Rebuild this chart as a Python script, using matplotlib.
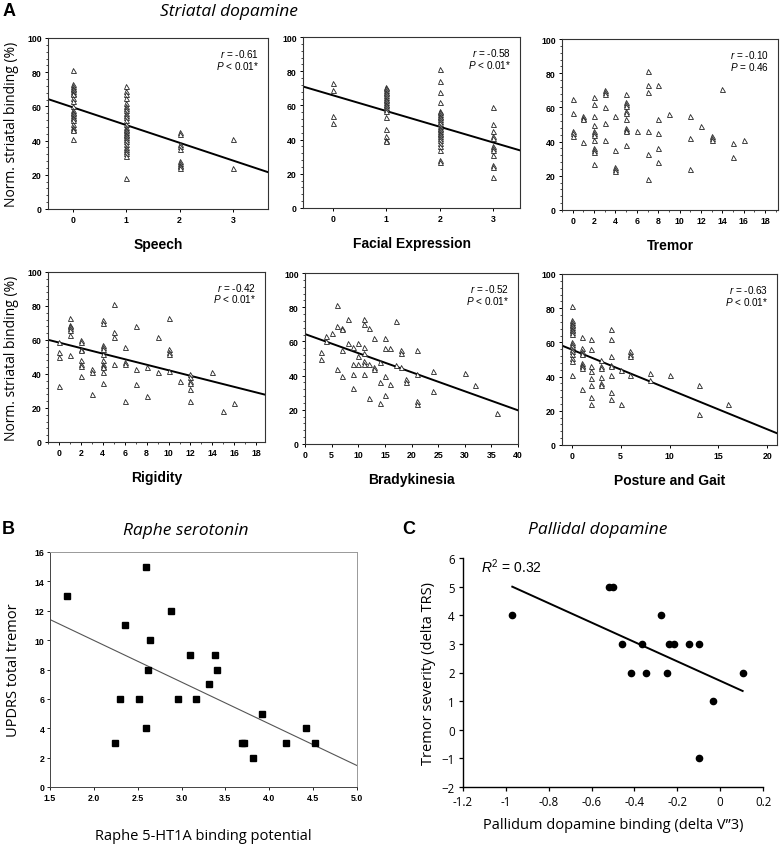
import matplotlib
matplotlib.use("Agg")
import matplotlib.pyplot as plt
import numpy as np
from matplotlib.ticker import MultipleLocator

plt.rcParams["mathtext.fontset"] = "custom"
plt.rcParams["mathtext.rm"] = "Liberation Sans"
plt.rcParams["mathtext.it"] = "Liberation Sans:italic"
plt.rcParams["mathtext.bf"] = "Liberation Sans:bold"

# ---------------- data: panel A (striatal dopamine) ----------------
speech_levels = [0, 1, 2, 3]
speech_values = [
    [81, 73, 72, 71, 70, 69, 68, 67, 65, 63, 60, 58, 57, 56, 55, 54, 53, 52, 50, 48, 47, 46, 41],
    [72, 69, 67, 65, 62, 60, 59, 58, 56, 55, 54, 52, 50, 48, 47, 46, 45, 44, 43, 42, 41, 40, 38,
     36, 35, 34, 33, 31, 18],
    [45, 44, 38, 37, 35, 28, 27, 26, 25, 24],
    [41, 24],
]
facial_levels = [0, 1, 2, 3]
facial_values = [
    [73, 69, 54, 50],
    [71, 70, 69, 68, 67, 66, 65, 64, 63, 62, 61, 60, 59, 58, 57, 53, 46, 42, 40, 39],
    [81, 74, 68, 62, 57, 56, 55, 54, 53, 52, 51, 50, 48, 47, 46, 45, 44, 43, 42, 41, 40, 38,
     36, 34, 28, 27],
    [59, 49, 45, 42, 41, 36, 35, 34, 31, 25, 24, 18],
]
tremor_levels = [0, 1, 2, 3, 4, 5, 6, 7, 8, 9, 11, 12, 13, 14, 15, 16]
tremor_values = [
    [65, 57, 46, 45, 43],
    [55, 54, 53, 40],
    [66, 62, 55, 50, 46, 45, 44, 41, 36, 35, 34, 27],
    [70, 69, 68, 60, 51, 41],
    [55, 35, 25, 24, 23],
    [68, 63, 62, 61, 58, 57, 53, 48, 47, 46, 38],
    [46],
    [81, 73, 69, 46, 33, 18],
    [73, 53, 45, 36, 28],
    [56],
    [55, 42, 24],
    [49],
    [43, 42, 41],
    [71],
    [39, 31],
    [41],
]
rigidity_levels = [0, 1, 2, 3, 4, 5, 6, 7, 8, 9, 10, 11, 12, 14, 15, 16]
rigidity_values = [
    [59, 53, 50, 33],
    [73, 69, 68, 67, 66, 63, 51],
    [60, 59, 55, 54, 48, 46, 45, 39],
    [43, 41, 28],
    [72, 70, 57, 56, 55, 52, 48, 46, 45, 44, 41, 35],
    [81, 65, 62, 46],
    [56, 47, 46, 24],
    [68, 43, 34],
    [44, 27],
    [62, 41],
    [73, 55, 53, 52, 42],
    [36],
    [40, 38, 36, 35, 31, 24],
    [41],
    [18],
    [23],
]
brady_x = [3, 3, 4, 4, 5, 6, 6, 6, 7, 7, 7, 7, 8, 8, 9, 9, 9, 9, 10, 10, 10, 11, 11, 11, 11,
           11, 11, 11, 12, 12, 12, 13, 13, 13, 14, 14, 14, 15, 15, 15, 15, 16, 16, 17, 17, 18,
           18, 18, 19, 19, 21, 21, 21, 21, 24, 24, 30, 32, 36]
brady_y = [54, 50, 63, 60, 65, 81, 69, 44, 68, 67, 55, 40, 73, 59, 57, 46.5, 41, 33, 59, 51.5,
           46.5, 73, 70, 57, 53, 48.6, 46.5, 41, 68, 47, 27, 62, 45, 44, 48, 36, 24, 62, 56,
           39.5, 28.5, 56, 35, 72, 46, 55, 53, 45, 38, 36, 55, 41, 25, 23.5, 42.5, 31, 41.4,
           34.4, 18]
posture_levels = [0, 1, 2, 3, 4, 5, 6, 8, 10, 13, 16]
posture_values = [
    [81, 73, 72, 71, 70, 69, 68, 67, 66, 65, 60, 59, 58, 56, 55, 53, 51, 49, 41],
    [63, 57, 55, 54, 53, 48, 47, 46, 45, 33],
    [62, 56, 46, 43, 39, 35, 28, 24],
    [50, 46, 45, 40, 36, 35],
    [68, 62, 52, 47, 46, 41, 31, 27],
    [44, 24],
    [55, 53, 52, 41],
    [42, 38],
    [41],
    [35, 18],
    [24],
]

panel_a_xlabels = ["Speech", "Facial Expression", "Tremor", "Rigidity", "Bradykinesia", "Posture and Gait"]
panel_a_r = ["-0.61", "-0.58", "-0.10", "-0.42", "-0.52", "-0.63"]
panel_a_p = ["< 0.01*", "< 0.01*", "= 0.46", "< 0.01*", "< 0.01*", "< 0.01*"]
# regression fits (slope, intercept); None = no line drawn
panel_a_slope = [-10.4, -9.2, None, -1.63, -1.115, -2.33]
panel_a_intercept = [59.5, 65.9, None, 58.5, 64.3, 55.8]

# ---------------- data: panel B (raphe serotonin) ----------------
raphe_bp = [1.69, 2.24, 2.30, 2.35, 2.52, 2.60, 2.60, 2.62, 2.64, 2.88, 2.96, 3.10, 3.17,
            3.31, 3.38, 3.40, 3.69, 3.71, 3.81, 3.92, 4.19, 4.42, 4.52]
raphe_tremor = [13, 3, 6, 11, 6, 15, 4, 8, 10, 12, 6, 9, 6, 7, 9, 8, 3, 3, 2, 5, 3, 4, 3]
raphe_fit = [-2.84, 15.66]

# ---------------- data: panel C (pallidal dopamine) ----------------
pallid_binding = [-0.97, -0.52, -0.50, -0.46, -0.415, -0.365, -0.345, -0.275, -0.25, -0.24,
                  -0.215, -0.145, -0.10, -0.10, -0.035, 0.105]
pallid_trs = [4, 5, 5, 3, 2, 3, 2, 4, 2, 3, 3, 3, 3, -1, 1, 2]
pallid_fit = [-3.39, 1.71]
pallid_fit_range = [-0.97, 0.105]


def expand(levels, values):
    xs, ys = [], []
    for lv, vals in zip(levels, values):
        xs += [lv] * len(vals)
        ys += list(vals)
    return np.array(xs, float), np.array(ys, float)


FIG_W, FIG_H = 780, 845
fig = plt.figure(figsize=(7.8, 8.45), dpi=100)


def add_ax(l, t, r, b):
    return fig.add_axes([l / FIG_W, 1 - b / FIG_H, (r - l) / FIG_W, (b - t) / FIG_H])


ARIAL = "Liberation Sans"
HUM = "Open Sans"

a_boxes = [(48, 39, 268, 210), (303, 38, 520, 209), (562, 40, 778, 211),
           (48, 273, 265, 443), (305, 274, 518, 445), (562, 275, 777, 446)]
a_data = [expand(speech_levels, speech_values), expand(facial_levels, facial_values),
          expand(tremor_levels, tremor_values), expand(rigidity_levels, rigidity_values),
          (np.array(brady_x, float), np.array(brady_y, float)),
          expand(posture_levels, posture_values)]
a_xlim = [(-0.46, 3.65), (-0.56, 3.5), (-1.0, 19.2), (-1.0, 18.8), (0, 40), (-1.0, 21)]
a_xticks = [[0, 1, 2, 3], [0, 1, 2, 3], list(range(0, 19, 2)), list(range(0, 19, 2)),
            list(range(0, 41, 5)), [0, 5, 10, 15, 20]]

for i in range(6):
    ax = add_ax(*a_boxes[i])
    x, y = a_data[i]
    ax.plot(x, y, linestyle="none", marker="^", markersize=3.6, markerfacecolor="white",
            markeredgecolor="#222222", markeredgewidth=0.6, zorder=3)
    if panel_a_slope[i] is not None:
        xl = np.array(a_xlim[i])
        ax.plot(xl, panel_a_slope[i] * xl + panel_a_intercept[i], color="black", lw=1.4, zorder=2)
    ax.set_xlim(*a_xlim[i])
    ax.set_ylim(0, 100)
    ax.set_xticks(a_xticks[i])
    ax.set_yticks([0, 20, 40, 60, 80, 100])
    ax.yaxis.set_minor_locator(MultipleLocator(4))
    if i in (2, 3):
        ax.xaxis.set_minor_locator(MultipleLocator(1))
    ax.tick_params(axis="both", which="major", direction="out", length=2.5, width=0.7,
                   labelsize=6.3, pad=2)
    ax.tick_params(axis="both", which="minor", direction="out", length=1.3, width=0.5)
    for lab in ax.get_xticklabels() + ax.get_yticklabels():
        lab.set_fontfamily(ARIAL)
        lab.set_fontweight("bold")
    for sp in ax.spines.values():
        sp.set_linewidth(0.8)
        sp.set_color("#333333")
    ax.set_xlabel(panel_a_xlabels[i], fontsize=10, fontweight="bold", family=ARIAL, labelpad=9)
    ax.text(0.96, 0.91, r"$r$ = " + panel_a_r[i], transform=ax.transAxes, ha="right",
            va="center", fontsize=7.2, family=ARIAL)
    ax.text(0.96, 0.845, r"$P$ " + panel_a_p[i], transform=ax.transAxes, ha="right",
            va="center", fontsize=7.2, family=ARIAL)
    if i in (0, 3):
        ax.set_ylabel("Norm. striatal binding (%)", fontsize=10, family=HUM, labelpad=6)

fig.text(9 / FIG_W, 1 - 12 / FIG_H, "A", fontsize=13, fontweight="bold", family=ARIAL,
         ha="center", va="center")
fig.text(229 / FIG_W, 1 - 12 / FIG_H, "Striatal dopamine", fontsize=12.5, style="italic",
         family=HUM, ha="center", va="center")

# ---------------- panel B ----------------
axb = add_ax(50, 553, 357, 788)
axb.plot(raphe_bp, raphe_tremor, linestyle="none", marker="s", markersize=4.5,
         color="black", zorder=3)
xb = np.array([1.5, 5.0])
axb.plot(xb, raphe_fit[0] * xb + raphe_fit[1], color="#555555", lw=0.8, zorder=2)
axb.set_xlim(1.5, 5.0)
axb.set_ylim(0, 16)
axb.set_xticks([1.5, 2.0, 2.5, 3.0, 3.5, 4.0, 4.5, 5.0])
axb.set_xticklabels(["1.5", "2.0", "2.5", "3.0", "3.5", "4.0", "4.5", "5.0"])
axb.set_yticks(range(0, 17, 2))
axb.tick_params(axis="both", direction="out", length=2, width=0.6, labelsize=6.3, pad=2)
for lab in axb.get_xticklabels() + axb.get_yticklabels():
    lab.set_fontfamily(ARIAL)
    lab.set_fontweight("bold")
for name, sp in axb.spines.items():
    sp.set_linewidth(0.7)
    sp.set_color("#444444" if name in ("left", "bottom") else "#999999")
axb.set_xlabel("Raphe 5-HT1A binding potential", fontsize=10.5, family=HUM, labelpad=19)
axb.set_ylabel("UPDRS total tremor", fontsize=10.5, family=HUM, labelpad=10)
fig.text(8 / FIG_W, 1 - 530 / FIG_H, "B", fontsize=13, fontweight="bold", family=ARIAL,
         ha="center", va="center")
fig.text(186 / FIG_W, 1 - 531 / FIG_H, "Raphe serotonin", fontsize=12.5, style="italic",
         family=HUM, ha="center", va="center")

# ---------------- panel C ----------------
axc = add_ax(463, 559, 763, 788)
axc.plot(pallid_binding, pallid_trs, linestyle="none", marker="o", markersize=4.5,
         color="black", zorder=3)
xc = np.array(pallid_fit_range)
axc.plot(xc, pallid_fit[0] * xc + pallid_fit[1], color="black", lw=1.4, zorder=2)
axc.set_xlim(-1.2, 0.2)
axc.set_ylim(-2, 6)
axc.set_xticks([-1.2, -1.0, -0.8, -0.6, -0.4, -0.2, 0.0, 0.2])
axc.set_xticklabels(["-1.2", "-1", "-0.8", "-0.6", "-0.4", "-0.2", "0", "0.2"])
axc.set_yticks(range(-2, 7))
axc.tick_params(axis="both", direction="out", length=3, width=0.9, labelsize=8.3, pad=3)
for lab in axc.get_xticklabels() + axc.get_yticklabels():
    lab.set_fontfamily(HUM)
axc.spines["top"].set_visible(False)
axc.spines["right"].set_visible(False)
for name in ("left", "bottom"):
    axc.spines[name].set_linewidth(1.0)
axc.set_xlabel("Pallidum dopamine binding (delta V\u201d3)", fontsize=10.5, family=HUM,
               labelpad=6)
axc.set_ylabel("Tremor severity (delta TRS)", fontsize=10.5, family=HUM, labelpad=4)
axc.text(0.06, 0.965, r"$R^2$ = 0.32", transform=axc.transAxes, ha="left", va="center",
         fontsize=10, family=ARIAL)
fig.text(409 / FIG_W, 1 - 529 / FIG_H, "C", fontsize=13, fontweight="bold", family=ARIAL,
         ha="center", va="center")
fig.text(598 / FIG_W, 1 - 530 / FIG_H, "Pallidal dopamine", fontsize=12.5, style="italic",
         family=HUM, ha="center", va="center")

fig.savefig("out.png", dpi=100)
